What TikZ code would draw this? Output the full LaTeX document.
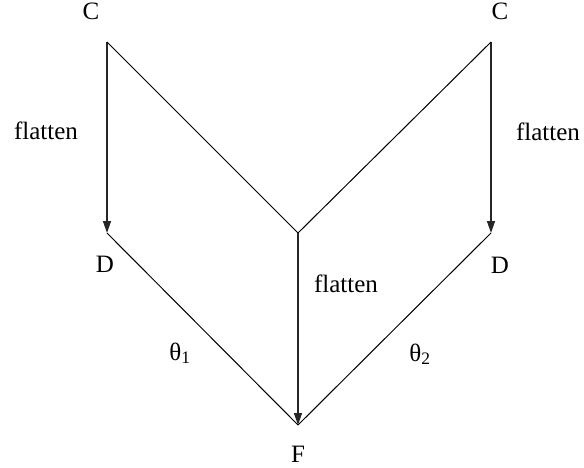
\documentclass[tikz,border=0pt]{standalone}
\usepackage{fontspec}
\setmainfont{Liberation Serif}
\usetikzlibrary{arrows.meta}
\tikzset{lbl/.style={font=\fontsize{25}{30}\selectfont,anchor=base,inner sep=0pt},edge/.style={draw=black,line width=1pt},flow/.style={-{Triangle[length=12pt,width=8pt]},draw=black!85,line width=1.4pt}}

\begin{document}
\begin{tikzpicture}[x=1pt,y=-1pt]
\useasboundingbox (0,0) rectangle (584,468);
\coordinate (cl) at (107,42);\coordinate (cr) at (491,42);
\coordinate (dl) at (107,233);\coordinate (dr) at (491,233);
\coordinate (mid) at (298,233);\coordinate (fp) at (298,425);
\node[lbl] (Cl) at (91,20) {C};
\node[lbl] (Cr) at (500,20) {C};
\node[lbl] (Dl) at (105,272) {D};
\node[lbl] (Dr) at (500,273) {D};
\node[lbl] (F) at (298,462) {F};
\node[lbl] (flatl) at (46,140) {flatten};
\node[lbl] (flatr) at (548,141) {flatten};
\node[lbl] (flatm) at (346,292) {flatten};
\node[lbl] (th1) at (180,360) {θ\textsubscript{1}};
\node[lbl] (th2) at (420,361) {θ\textsubscript{2}};
\draw[flow] (cl) -- (dl);\draw[flow] (cr) -- (dr);
\draw[edge] (cl) -- (mid);\draw[edge] (cr) -- (mid);
\draw[flow] (mid) -- (fp);
\draw[edge] (dl) -- (fp);\draw[edge] (dr) -- (fp);
\end{tikzpicture}
\end{document}
